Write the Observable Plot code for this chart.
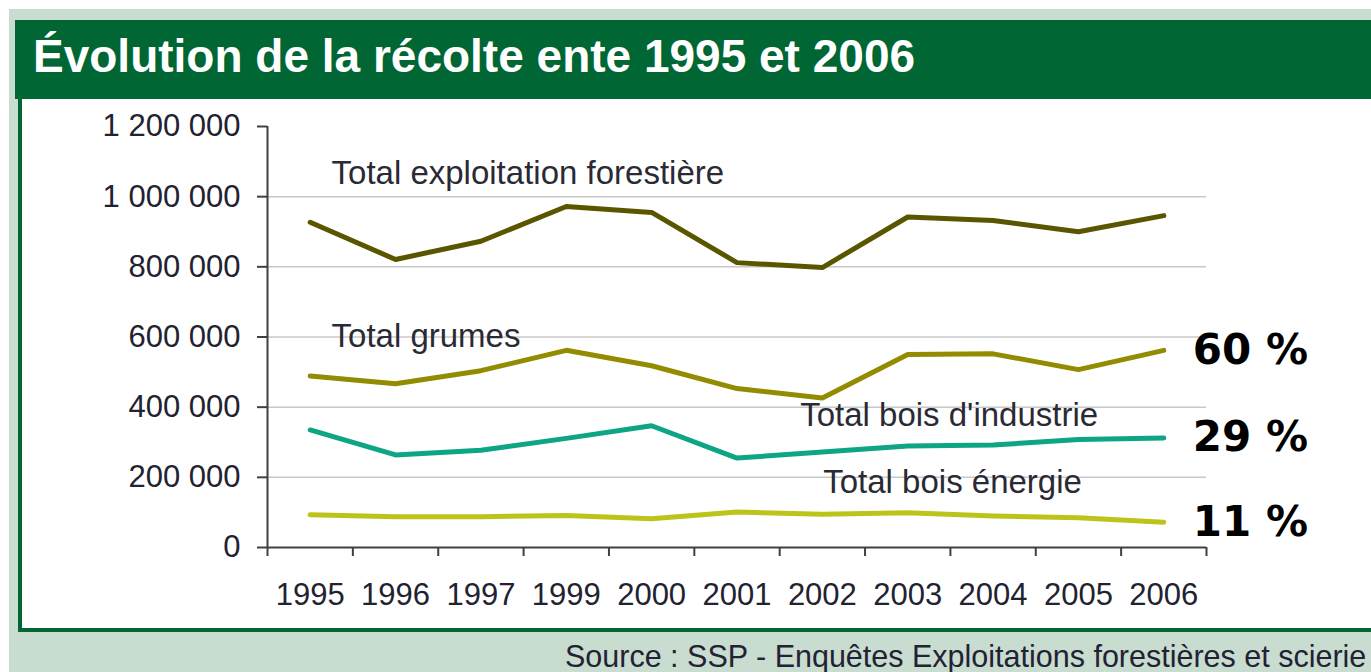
<!DOCTYPE html>
<html>
<head>
<meta charset="utf-8">
<script src="https://cdn.jsdelivr.net/npm/d3@7"></script>
<script src="https://cdn.jsdelivr.net/npm/@observablehq/plot@0.6"></script>
<style>
  html, body { margin: 0; padding: 0; }
  body { width: 1371px; height: 672px; overflow: hidden; background: #ffffff; position: relative; font-family: "Liberation Sans", Arial, sans-serif; }
  #bg { position: absolute; left: 9px; top: 9px; right: 0; bottom: 0; background: #c8dcd0; }
  #title { position: absolute; left: 15px; top: 20px; width: 1356px; height: 79px; background: #006633; color: #ffffff;
           font-weight: bold; font-size: 46px; line-height: 72px; padding-left: 18px; box-sizing: border-box; white-space: nowrap; }
  #box { position: absolute; left: 18px; top: 99px; width: 1353px; height: 533px; background: #ffffff;
         border-left: 4px solid #006633; border-bottom: 4px solid #006633; box-sizing: border-box; }
  #chart { position: absolute; left: 0; top: 99px; }
  #source { position: absolute; left: 565px; top: 640px; font-size: 30.5px; color: #222233; white-space: nowrap; line-height: 32px; }
</style>
</head>
<body>
<div id="bg"></div>
<div id="title">Évolution de la récolte ente 1995 et 2006</div>
<div id="box"></div>
<div id="chart"></div>
<div id="source">Source : SSP - Enquêtes Exploitations forestières et scierie</div>
<script>
// ---- data ----
const years = ["1995","1996","1997","1999","2000","2001","2002","2003","2004","2005","2006"];
const seriesNames = ["Total exploitation forestière","Total grumes","Total bois d'industrie","Total bois énergie"];
const exploitation = [927000, 821000, 873000, 972000, 955000, 812000, 798000, 942000, 932000, 900000, 946000];
const grumes       = [489000, 467000, 504000, 562000, 518000, 453000, 426000, 550000, 552000, 507000, 562000];
const industrie    = [335000, 264000, 277000, 311000, 347000, 255000, 272000, 289000, 292000, 308000, 312000];
const energie      = [93000, 88000, 88000, 91000, 82000, 101000, 95000, 99000, 90000, 85000, 72000];
const yTicks = [0, 200000, 400000, 600000, 800000, 1000000, 1200000];
const shareLabels = ["60 %", "29 %", "11 %"]; // grumes, industrie, énergie

// label anchors (data units: x = year index, y = volume)
const labelX = [0.25, 0.25, 5.74, 6.01];
const labelY = [1065000, 601000, 377000, 186000];

// ---- build tables ----
const valuesBySeries = [exploitation, grumes, industrie, energie];
const rows = [];
valuesBySeries.forEach((vals, s) => vals.forEach((v, i) => rows.push({series: seriesNames[s], i, value: v})));
const labels = seriesNames.map((name, s) => ({name, x: labelX[s], y: labelY[s]}));
const last = years.length - 1;
const shares = shareLabels.map((t, k) => ({t, i: last, value: valuesBySeries[k + 1][last]}));
const colors = ["#5a5600", "#938c00", "#0ea584", "#bcc41c"];
const xDomain = [-0.5, years.length - 0.5];
const boundaries = d3.range(years.length + 1).map(i => i - 0.5);
const fmt = d => d3.format(",")(d).replace(/,/g, " ");
const axisColor = "#404040";
const font = "Liberation Sans, Arial, sans-serif";

const chart = Plot.plot({
  width: 1371,
  height: 529,
  marginLeft: 267,
  marginRight: 165,
  marginTop: 27,
  marginBottom: 81,
  style: {background: "transparent", fontFamily: font, color: "#222230", overflow: "visible"},
  x: {type: "linear", domain: xDomain},
  y: {domain: [yTicks[0], yTicks[yTicks.length - 1]]},
  color: {domain: seriesNames, range: colors},
  marks: [
    Plot.ruleY(yTicks.slice(1, -1), {stroke: "#c8c8c8", strokeWidth: 1.5}),
    Plot.ruleX([xDomain[0]], {y1: yTicks[0], y2: yTicks[yTicks.length - 1], stroke: axisColor, strokeWidth: 2}),
    Plot.ruleY([0], {x1: xDomain[0], x2: xDomain[1], stroke: axisColor, strokeWidth: 2}),
    Plot.axisY(yTicks, {tickSize: 10, tickPadding: 17, tickFormat: fmt, fontSize: 31, label: null, stroke: axisColor, strokeWidth: 2, fill: "#222230"}),
    Plot.axisX(boundaries, {tickSize: 9, tickFormat: () => "", label: null, stroke: axisColor, strokeWidth: 2}),
    Plot.axisX(d3.range(years.length), {tickSize: 0, tickPadding: 35, tickFormat: i => years[i], fontSize: 31, label: null, fill: "#222230"}),
    Plot.line(rows, {x: "i", y: "value", z: "series", stroke: "series", strokeWidth: 5}),
    Plot.text(labels, {x: "x", y: "y", text: "name", textAnchor: "start", fontSize: 33, fill: "#2a2a35", fontFamily: font}),
    Plot.text(shares, {x: "i", y: "value", text: "t", textAnchor: "start", dx: 29, fontSize: 42, fontWeight: "bold", fill: "#000000", fontFamily: "DejaVu Sans, Verdana, sans-serif"})
  ]
});
document.getElementById("chart").appendChild(chart);
</script>
</body>
</html>
